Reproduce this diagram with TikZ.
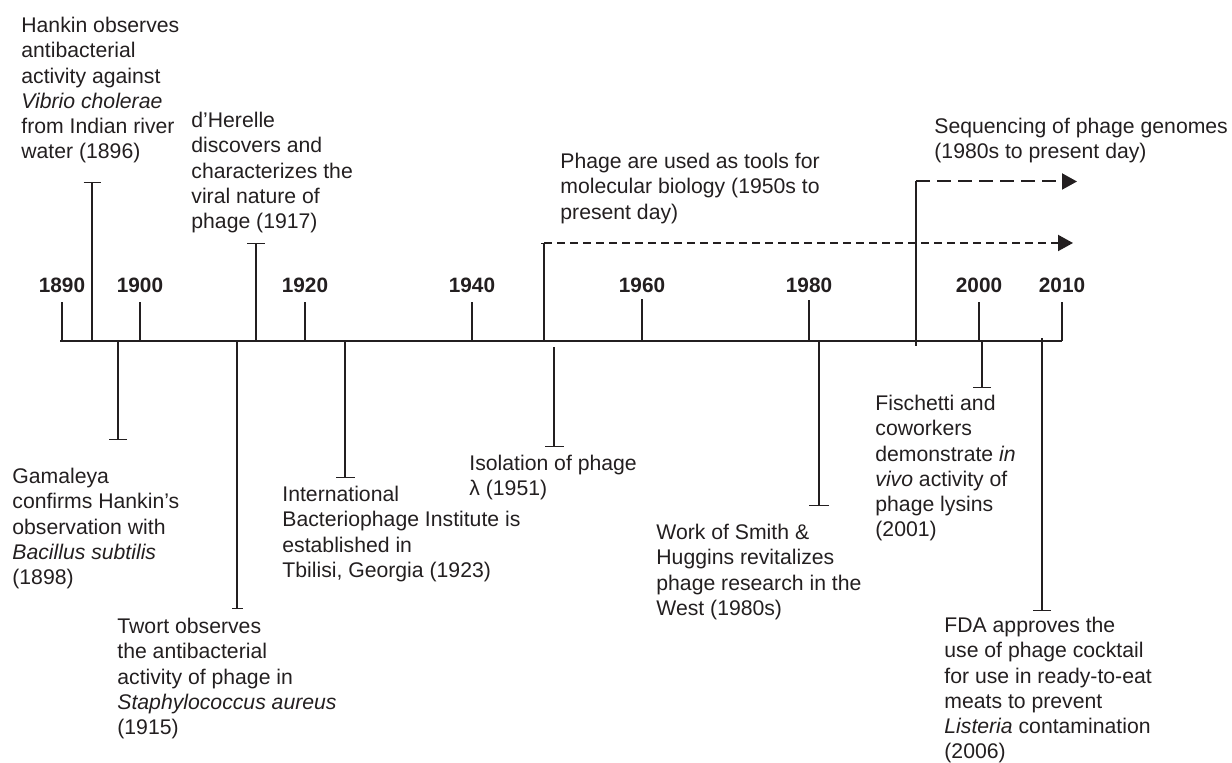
\documentclass[tikz,border=0pt]{standalone}
\usepackage{fontspec}
\setmainfont{Liberation Sans}
\usetikzlibrary{arrows.meta, positioning}
\definecolor{inkdark}{RGB}{35,31,32}

\begin{document}
\begin{tikzpicture}[x=0.5pt, y=-0.5pt, node distance=4.5pt,
  note/.style={anchor=north west, align=left, inner sep=0pt, text=inkdark, font=\fontsize{10.6}{12.6}\selectfont},
  yearlbl/.style={inner sep=0pt, text=inkdark, font=\fontsize{10.4}{12}\selectfont\bfseries},
  axisline/.style={line width=1pt, draw=inkdark},
  yeartick/.style={line width=1pt, draw=inkdark},
  event/.style={line width=0.65pt, draw=inkdark, -{Bar[width=#1]}},
  event/.default=9pt,
  future/.style={line width=1pt, draw=inkdark, -{Triangle[length=7.5pt, width=8pt]}}
]
\useasboundingbox (0,0) rectangle (1232,763);

% axis and year ticks
\coordinate (axleft) at (60,341);
\coordinate (axright) at (1062,341);
\draw[axisline] (axleft) -- (axright);
\coordinate (b1890) at (62,341);   \coordinate (y1890) at (62,302);
\coordinate (b1900) at (140,341);  \coordinate (y1900) at (140,302);
\coordinate (b1920) at (305,341);  \coordinate (y1920) at (305,302);
\coordinate (b1940) at (472,341);  \coordinate (y1940) at (472,302);
\coordinate (b1960) at (642,341);  \coordinate (y1960) at (642,302);
\coordinate (b1980) at (809,341);  \coordinate (y1980) at (809,302);
\coordinate (b2000) at (979,341);  \coordinate (y2000) at (979,302);
\coordinate (b2010) at (1062,341); \coordinate (y2010) at (1062,302);
\draw[yeartick] (b1890) -- (y1890);
\draw[yeartick] (b1900) -- (y1900);
\draw[yeartick] (b1920) -- (y1920);
\draw[yeartick] (b1940) -- (y1940);
\draw[yeartick] (b1960) -- ++(0,-42);
\draw[yeartick] (b1980) -- ++(0,-41);
\draw[yeartick] (b2000) -- (y2000);
\draw[yeartick] (b2010) -- (y2010);
\node[yearlbl, above=of y1890] (l1890) {1890};
\node[yearlbl, above=of y1900] (l1900) {1900};
\node[yearlbl, above=of y1920] (l1920) {1920};
\node[yearlbl, above=of y1940] (l1940) {1940};
\node[yearlbl, above=of y1960] (l1960) {1960};
\node[yearlbl, above=of y1980] (l1980) {1980};
\node[yearlbl, above=of y2000] (l2000) {2000};
\node[yearlbl, above=of y2010] (l2010) {2010};

% events above the axis
\coordinate (hankin-ax) at (92,341);   \coordinate (hankin-end) at (92,182);
\coordinate (herelle-ax) at (256,341); \coordinate (herelle-end) at (256,243);
\coordinate (tools-ax) at (544,341);   \coordinate (tools-top) at (544,243);
\coordinate (tools-tip) at (1073,243);
\coordinate (seqn-ax) at (916,346);    \coordinate (seqn-top) at (916,181.5);
\coordinate (seqn-tip) at (1077,181.5);
\draw[event=8.5pt] (hankin-ax) -- (hankin-end);
\draw[event] (herelle-ax) -- (herelle-end);
\draw[event=3pt] (tools-ax) -- (tools-top);
\draw[future, dash pattern=on 4pt off 2.5pt] (tools-top) -- (tools-tip);
\draw[line width=0.65pt, draw=inkdark] (seqn-ax) -- (seqn-top);
\draw[future, dash pattern=on 7pt off 3.5pt] (seqn-top) -- (seqn-tip);

% events below the axis
\coordinate (gamaleya-ax) at (118,341);  \coordinate (gamaleya-end) at (118,440);
\coordinate (twort-ax) at (237,341);     \coordinate (twort-end) at (237,609);
\coordinate (intl-ax) at (345,341);      \coordinate (intl-end) at (345,478);
\coordinate (lambda-ax) at (554,347);    \coordinate (lambda-end) at (554,447);
\coordinate (smith-ax) at (819,341);     \coordinate (smith-end) at (819,506);
\coordinate (lysin-ax) at (982,341);     \coordinate (lysin-end) at (982,388);
\coordinate (fda-ax) at (1042,338);      \coordinate (fda-end) at (1042,611);
\draw[event] (gamaleya-ax) -- (gamaleya-end);
\draw[event=5.5pt] (twort-ax) -- (twort-end);
\draw[event=9.5pt] (intl-ax) -- (intl-end);
\draw[event=9.5pt] (lambda-ax) -- (lambda-end);
\draw[event=10pt] (smith-ax) -- (smith-end);
\draw[event] (lysin-ax) -- (lysin-end);
\draw[event] (fda-ax) -- (fda-end);

% texts
\node[note] (hankin) at (21,17) {Hankin observes\\antibacterial\\activity against\\\textit{Vibrio cholerae}\\from Indian river\\water (1896)};
\node[note] (herelle) at (191,112) {d’Herelle\\discovers and\\characterizes the\\viral nature of\\phage (1917)};
\node[note] (tools) at (560,153) {Phage are used as tools for\\molecular biology (1950s to\\present day)};
\node[note] (seqn) at (934,118) {Sequencing of phage genomes\\(1980s to present day)};
\node[note] (gamaleya) at (12,468) {Gamaleya\\confirms Hankin’s\\observation with\\\textit{Bacillus subtilis}\\(1898)};
\node[note] (twort) at (117,618) {Twort observes\\the antibacterial\\activity of phage in\\\textit{Staphylococcus aureus}\\(1915)};
\node[note] (intl) at (282,486) {International\\Bacteriophage Institute is\\established in\\Tbilisi, Georgia (1923)};
\node[note] (lambda) at (469,455) {Isolation of phage\\λ (1951)};
\node[note] (smith) at (656,524) {Work of Smith \&\\Huggins revitalizes\\phage research in the\\West (1980s)};
\node[note] (lysin) at (875,395) {Fischetti and\\coworkers\\demonstrate \textit{in}\\\textit{vivo} activity of\\phage lysins\\(2001)};
\node[note] (fda) at (944,617) {FDA approves the\\use of phage cocktail\\for use in ready-to-eat\\meats to prevent\\\textit{Listeria} contamination\\(2006)};
\end{tikzpicture}
\end{document}
